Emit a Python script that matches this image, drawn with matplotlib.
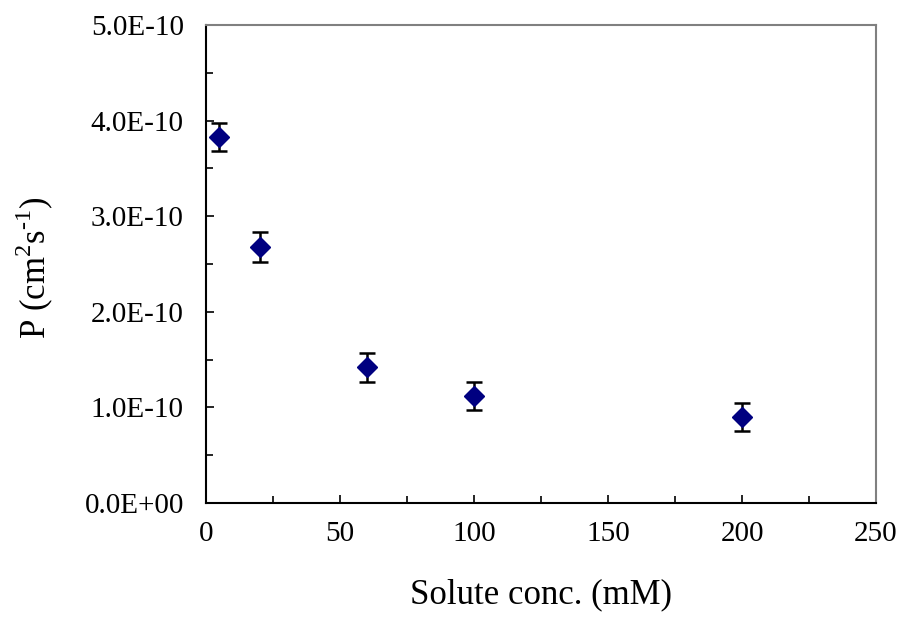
import matplotlib
matplotlib.use("Agg")
import matplotlib.pyplot as plt
from matplotlib.ticker import MultipleLocator, FuncFormatter

conc = [5, 20, 60, 100, 200]
perm = [3.83e-10, 2.68e-10, 1.42e-10, 1.12e-10, 0.90e-10]
perm_err = [0.15e-10, 0.155e-10, 0.15e-10, 0.15e-10, 0.15e-10]

plt.rcParams['font.family'] = ['Liberation Serif', 'DejaVu Serif']
plt.rcParams['mathtext.fontset'] = 'custom'
plt.rcParams['mathtext.rm'] = 'Liberation Serif'

fig = plt.figure(figsize=(9, 6.35), dpi=100)
ax = fig.add_axes([206/900, 1-503/635, 670/900, 478/635])

ax.errorbar(conc, perm, yerr=perm_err, fmt='D', color='#000080', markersize=10,
            ecolor='black', elinewidth=1.8, capsize=6, capthick=1.8, zorder=3)

ax.set_xlim(0, 250)
ax.set_ylim(0, 5e-10)
ax.xaxis.set_major_locator(MultipleLocator(50))
ax.xaxis.set_minor_locator(MultipleLocator(25))
ax.yaxis.set_major_locator(MultipleLocator(1e-10))
ax.yaxis.set_minor_locator(MultipleLocator(0.5e-10))

def yfmt(v, pos):
    if abs(v) < 1e-20:
        return '0.0E+00'
    return '%.1fE-10' % (v / 1e-10)
ax.yaxis.set_major_formatter(FuncFormatter(yfmt))

ax.tick_params(which='both', direction='in', labelsize=21, color='black', width=1.2)
ax.tick_params(which='major', length=6)
ax.tick_params(which='minor', length=5)
ax.tick_params(axis='x', pad=13)
ax.tick_params(axis='y', pad=16)

for s in ['left', 'bottom']:
    ax.spines[s].set_color('black')
    ax.spines[s].set_linewidth(1.5)
for s in ['top', 'right']:
    ax.spines[s].set_color('#808080')
    ax.spines[s].set_linewidth(1.5)

fig.text((206 + 876) / 2 / 900, 1-595/635, 'Solute conc. (mM)', ha='center', va='center', fontsize=25)
fig.text(35/900, 1-268/635, r'P (cm$^{2}$s$^{\text{-}1}$)', ha='center', va='center', rotation=90, fontsize=25)

fig.savefig('out.png', dpi=100)
